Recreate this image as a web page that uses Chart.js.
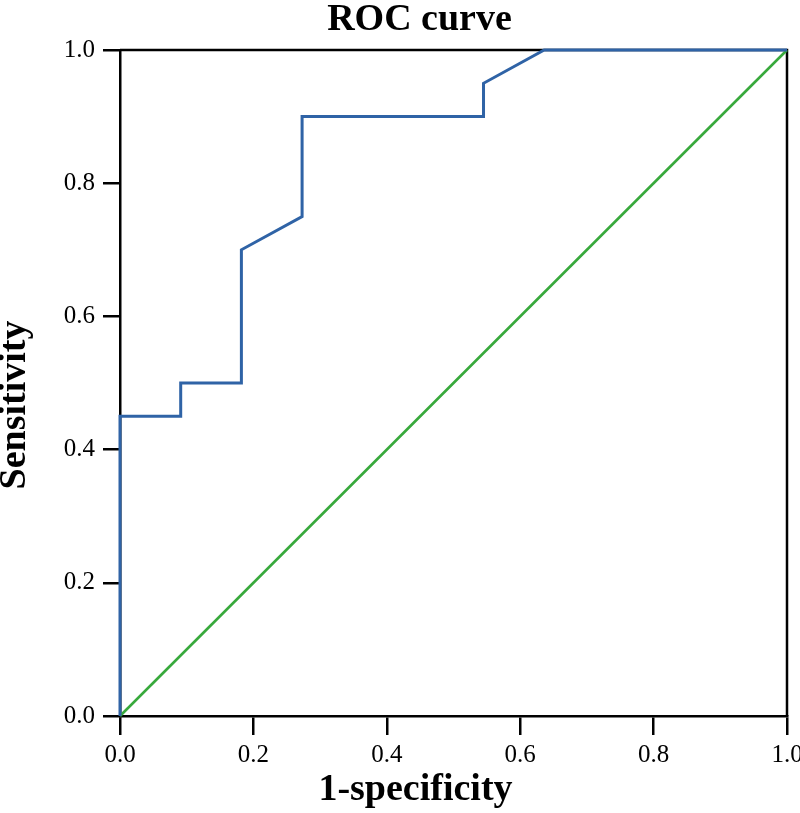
<!DOCTYPE html>
<html>
<head>
<meta charset="utf-8">
<script src="https://cdn.jsdelivr.net/npm/chart.js@4/dist/chart.umd.min.js"></script>
<style>
  html, body { margin: 0; padding: 0; background: #ffffff; overflow: hidden; }
  #wrap { width: 800px; height: 813px; }
</style>
</head>
<body>
<div id="wrap"><canvas id="c" width="800" height="813"></canvas></div>
<script>
// ---- data ----
const rocX = [0, 0, 0.091, 0.091, 0.182, 0.182, 0.273, 0.273, 0.545, 0.545, 0.636, 1.0];
const rocY = [0, 0.45, 0.45, 0.50, 0.50, 0.70, 0.75, 0.90, 0.90, 0.95, 1.0, 1.0];
const refX = [0, 1];
const refY = [0, 1];
const xTickLabels = ['0.0', '0.2', '0.4', '0.6', '0.8', '1.0'];
const yTickLabels = ['0.0', '0.2', '0.4', '0.6', '0.8', '1.0'];
const chartTitle = 'ROC curve';
const xTitle = '1-specificity';
const yTitle = 'Sensitivity';

const toPoints = (xs, ys) => xs.map((x, i) => ({ x: x, y: ys[i] }));
const SERIF = "'Liberation Serif', 'Times New Roman', serif";

// shift helper: moves text drawn by a Chart.js element
function patch(obj, method, dx, dy) {
  if (!obj || obj['_patched_' + method]) return;
  const orig = obj[method];
  obj['_patched_' + method] = true;
  obj[method] = function (...args) {
    const ctx = this.ctx;
    ctx.save();
    ctx.translate(dx, dy);
    const r = orig.apply(this, args);
    ctx.restore();
    return r;
  };
}

const framePlugin = {
  id: 'frame',
  beforeDraw(chart) {
    patch(chart.titleBlock, 'draw', 26, 0);
    patch(chart.scales.x, 'drawTitle', -38, 0);
    patch(chart.scales.y, 'drawTitle', 0, 22);
  },
  beforeDatasetsDraw(chart) {
    const a = chart.chartArea;
    const ctx = chart.ctx;
    ctx.save();
    ctx.strokeStyle = '#000';
    ctx.lineWidth = 2.5;
    ctx.beginPath();
    ctx.moveTo(a.left, a.top);
    ctx.lineTo(a.right, a.top);
    ctx.lineTo(a.right, a.bottom);
    ctx.stroke();
    ctx.restore();
  }
};

new Chart(document.getElementById('c'), {
  type: 'scatter',
  data: {
    datasets: [
      {
        label: 'ROC',
        data: toPoints(rocX, rocY),
        showLine: true,
        borderColor: '#2f63a6',
        borderWidth: 3,
        pointRadius: 0,
        tension: 0,
        fill: false,
        clip: false
      },
      {
        label: 'Reference',
        data: toPoints(refX, refY),
        showLine: true,
        borderColor: '#38a93c',
        borderWidth: 2.6,
        pointRadius: 0,
        tension: 0,
        fill: false,
        clip: false
      }
    ]
  },
  options: {
    responsive: false,
    animation: false,
    devicePixelRatio: 1,
    layout: { padding: { left: 0, right: 13, top: 0, bottom: 0 } },
    plugins: {
      legend: { display: false },
      tooltip: { enabled: false },
      title: {
        display: true,
        text: chartTitle,
        color: '#000',
        font: { family: SERIF, size: 38, weight: 'bold', lineHeight: '34px' },
        padding: { top: 3, bottom: 13 }
      }
    },
    scales: {
      x: {
        type: 'linear',
        min: 0,
        max: 1,
        afterBuildTicks: s => { s.ticks = xTickLabels.map(t => ({ value: parseFloat(t) })); },
        ticks: {
          color: '#000',
          font: { family: SERIF, size: 25 },
          padding: 5,
          maxRotation: 0,
          callback: (v, i) => xTickLabels[i]
        },
        grid: { display: true, drawOnChartArea: false, drawTicks: true, tickLength: 19, lineWidth: 2.5, tickWidth: 2.5, tickColor: '#000' },
        border: { display: true, color: '#000', width: 2.5 },
        title: {
          display: true,
          text: xTitle,
          color: '#000',
          font: { family: SERIF, size: 38, weight: 'bold', lineHeight: '40px' },
          padding: { top: 0, bottom: 3 }
        },
        afterFit: s => { s.height = 97; s.paddingLeft = 0; s.paddingRight = 0; }
      },
      y: {
        type: 'linear',
        min: 0,
        max: 1,
        afterBuildTicks: s => { s.ticks = yTickLabels.map(t => ({ value: parseFloat(t) })); },
        ticks: {
          color: '#000',
          font: { family: SERIF, size: 25 },
          padding: 8,
          callback: (v, i) => yTickLabels[i]
        },
        grid: { display: true, drawOnChartArea: false, drawTicks: true, tickLength: 17, lineWidth: 2.5, tickWidth: 2.5, tickColor: '#000' },
        border: { display: true, color: '#000', width: 2.5 },
        title: {
          display: true,
          text: yTitle,
          color: '#000',
          font: { family: SERIF, size: 38, weight: 'bold', lineHeight: '30px' },
          padding: { top: 0, bottom: 0 }
        },
        afterFit: s => { s.width = 120; s.paddingTop = 0; s.paddingBottom = 0; }
      }
    }
  },
  plugins: [framePlugin]
});
</script>
</body>
</html>
